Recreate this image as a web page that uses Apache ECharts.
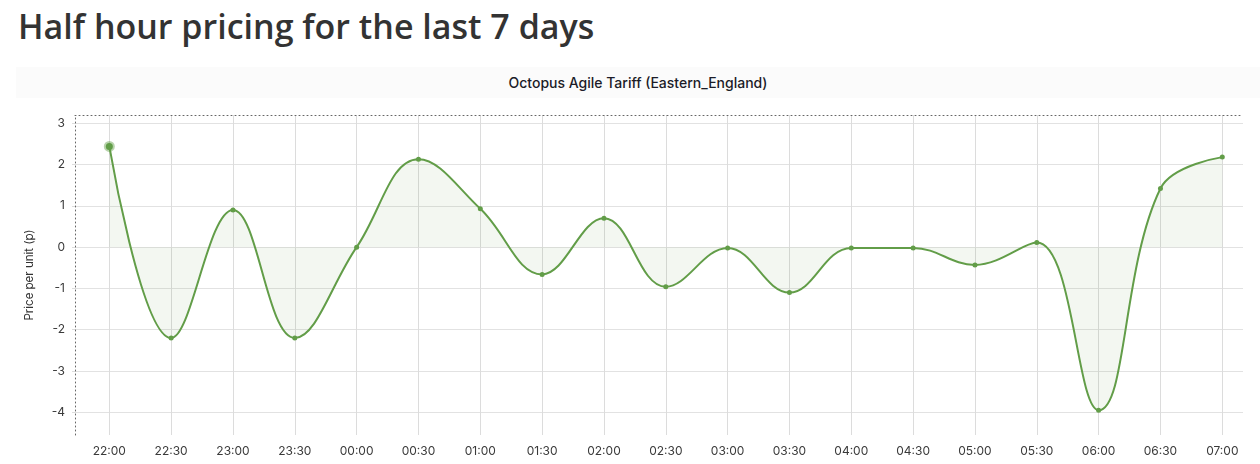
<!DOCTYPE html>
<html>
<head>
<meta charset="utf-8">
<title>Half hour pricing</title>
<script src="https://cdn.jsdelivr.net/npm/echarts@6.0.0/dist/echarts.min.js"></script>
<style>
  html, body { margin: 0; padding: 0; background: #fff; }
  #page { position: relative; width: 1260px; height: 464px; overflow: hidden; }
  h1 {
    position: absolute; left: 18px; top: 1px; margin: 0;
    font-family: 'Open Sans', 'Noto Sans', sans-serif; font-weight: 600;
    font-size: 34px; line-height: 50px; color: #333;
  }
  .band {
    position: absolute; left: 16px; top: 67px; width: 1244px; height: 31px;
    background: #fbfbfb; text-align: center;
    font-family: Inter, 'Noto Sans', sans-serif; font-weight: 500;
    font-size: 14px; line-height: 31px; color: #1c1c28;
  }
  #chart { position: absolute; left: 0; top: 0; width: 1260px; height: 464px; }
</style>
</head>
<body>
<div id="page">
  <h1>Half hour pricing for the last 7 days</h1>
  <div class="band">Octopus Agile Tariff (Eastern_England)</div>
  <div id="chart"></div>
</div>
<script>
// 时间段
var times = ['22:00', '22:30', '23:00', '23:30', '00:00', '00:30', '01:00', '01:30', '02:00', '02:30',
  '03:00', '03:30', '04:00', '04:30', '05:00', '05:30', '06:00', '06:30', '07:00']
// 单价 (p)
var prices = [2.44, -2.2, 0.9, -2.2, 0, 2.13, 0.93, -0.66, 0.7, -0.96,
  -0.02, -1.1, -0.02, -0.02, -0.43, 0.11, -3.95, 1.42, 2.18]
// y轴刻度
var yTicks = [-4, -3, -2, -1, 0, 1, 2, 3]

var lineColor = '#629d48'
var xTicks = times.map(function (t, i) { return i })
var points = prices.map(function (v, i) {
  var p = { value: [i, v] }
  if (i === 0) {
    p.symbolSize = 7
    p.itemStyle = { color: lineColor, borderColor: 'rgba(98,157,72,0.45)', borderWidth: 4 }
  }
  return p
})

var font = 'Inter, "Noto Sans", sans-serif'
var dotted = { color: '#666', type: [1, 3], width: 1 }
var chart = echarts.init(document.getElementById('chart'), null, { renderer: 'canvas' })
chart.setOption({
  backgroundColor: 'transparent',
  animation: false,
  grid: { left: 75, right: 17, top: 115, bottom: 29 },
  xAxis: [{
    type: 'value',
    min: -0.555,
    max: 18.335,
    axisLine: { show: false },
    axisTick: { show: false, customValues: xTicks },
    splitLine: { show: true, customValues: xTicks, lineStyle: { color: '#dcdcdc', width: 1 } },
    axisLabel: {
      customValues: xTicks, margin: 10, color: '#3a3a3a', fontSize: 12, fontFamily: font,
      formatter: function (v) { return times[Math.round(v)] }
    }
  }, {
    type: 'value',
    position: 'top',
    min: -0.555,
    max: 18.335,
    axisLine: { show: true, onZero: false, lineStyle: dotted },
    axisTick: { show: false },
    axisLabel: { show: false },
    splitLine: { show: false }
  }],
  yAxis: {
    type: 'value',
    min: -4.55,
    max: 3.2,
    name: 'Price per unit (p)',
    nameLocation: 'middle',
    nameGap: 39,
    nameTextStyle: { color: '#333', fontSize: 11.5, fontFamily: font },
    axisLine: { show: true, onZero: false, lineStyle: dotted },
    axisTick: { show: true, customValues: yTicks, length: 3, lineStyle: { color: '#dcdcdc' } },
    splitLine: { show: true, customValues: yTicks, lineStyle: { color: '#e2e2e2', width: 1 } },
    axisLabel: { customValues: yTicks, margin: 10, color: '#3a3a3a', fontSize: 12, fontFamily: font }
  },
  series: [{
    type: 'line',
    data: points,
    smooth: 0.4,
    symbol: 'circle',
    symbolSize: 5,
    lineStyle: { color: lineColor, width: 2 },
    itemStyle: { color: lineColor },
    areaStyle: { color: 'rgba(98,157,72,0.11)', origin: 0 }
  }]
})

window.addEventListener('resize', function () {
  chart.resize()
})
</script>
</body>
</html>
